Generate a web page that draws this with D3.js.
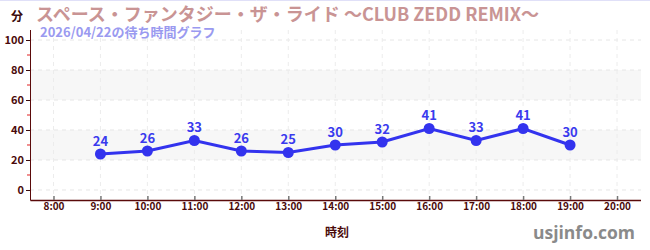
<!DOCTYPE html>
<html><head><meta charset="utf-8">
<script src="https://cdn.jsdelivr.net/npm/d3@7"></script>
<style>body{margin:0;background:#fff;}svg{display:block;font-family:"Noto Sans CJK JP","Noto Sans",sans-serif;}</style>
</head><body>
<svg id="c" width="650" height="250"></svg>
<script>
const hours = [9,10,11,12,13,14,15,16,17,18,19];
const waits = [24,26,33,26,25,30,32,41,33,41,30];
const xTicks = [8,9,10,11,12,13,14,15,16,17,18,19,20];
const yTicks = [0,20,40,60,80,100];
const yMinor = [10,30,50,70,90];
const bands = [[20,40],[60,80]];
const title = "スペース・ファンタジー・ザ・ライド 〜CLUB ZEDD REMIX〜";
const subtitle = "2026/04/22の待ち時間グラフ";

const svg = d3.select("#c");
const x = d3.scaleLinear().domain([7.5,20.5]).range([30,640.5]);
const y = d3.scaleLinear().domain([-6.67,106.67]).range([200,30]);

svg.append("line").attr("x1",0).attr("x2",650).attr("y1",0.5).attr("y2",0.5).attr("stroke","#e0e0f8").attr("stroke-width",1);

// bands
svg.selectAll("rect.band").data(bands).join("rect")
  .attr("x",30).attr("width",611)
  .attr("y",d=>y(d[1])).attr("height",d=>y(d[0])-y(d[1]))
  .attr("fill","#f7f7f7");

// grid
svg.selectAll("line.hg").data(yTicks).join("line")
  .attr("x1",30).attr("x2",641).attr("y1",d=>y(d)).attr("y2",d=>y(d))
  .attr("stroke","#e6e6e6").attr("stroke-dasharray","4,4");
svg.selectAll("line.vg").data(xTicks).join("line")
  .attr("x1",d=>x(d)).attr("x2",d=>x(d)).attr("y1",30).attr("y2",200)
  .attr("stroke","#ececec").attr("stroke-dasharray","4,4");

// y axis
const ya = svg.append("g").attr("transform","translate(30,0)")
  .call(d3.axisLeft(y).tickValues(yTicks).tickSize(4).tickPadding(2));
ya.select(".domain").attr("stroke","#5a0a0a").attr("d","M0.5,30V200.5");
ya.selectAll(".tick line").attr("stroke","#3a0a0a");
ya.selectAll(".tick text").attr("fill","#4a0a0a").attr("font-size",11).attr("font-weight","bold").attr("font-family","'Noto Sans CJK JP',sans-serif");
svg.append("g").selectAll("line").data(yMinor).join("line")
  .attr("x1",27).attr("x2",30).attr("y1",d=>y(d)).attr("y2",d=>y(d)).attr("stroke","#e02020");

// x axis
const xa = svg.append("g").attr("transform","translate(0,200)")
  .call(d3.axisBottom(x).tickValues(xTicks).tickFormat(d=>d+":00").tickSizeInner(-4).tickSizeOuter(0).tickPadding(3));
xa.select(".domain").attr("stroke","#5a0a0a").attr("stroke-width",1.3);
xa.selectAll(".tick line").attr("stroke","#777").attr("stroke-width",1.5);
xa.selectAll(".tick text").attr("fill","#4a0a0a").attr("font-size",10).attr("font-weight","bold").attr("font-family","'Noto Sans CJK JP',sans-serif");

// line
const line = d3.line().x((d,i)=>x(hours[i])).y(d=>y(d));
svg.append("path").datum(waits).attr("d",line).attr("fill","none").attr("stroke","#3333ee").attr("stroke-width",3);
svg.selectAll("circle.p").data(waits).join("circle")
  .attr("cx",(d,i)=>x(hours[i])).attr("cy",d=>y(d)).attr("r",5.5).attr("fill","#3333ee");
svg.selectAll("text.v").data(waits).join("text")
  .attr("x",(d,i)=>x(hours[i])).attr("y",d=>y(d)-8).attr("text-anchor","middle")
  .attr("fill","#3a3aee").attr("font-size",13).attr("font-weight","bold").text(d=>d);

// texts
svg.append("text").attr("x",17).attr("y",21).attr("text-anchor","middle").attr("font-size",12).attr("font-weight","bold").attr("fill","#3a0a0a").text("分");
svg.append("text").attr("x",36).attr("y",21).attr("font-size",18).attr("font-weight","bold").attr("fill","#c99494").text(title);
svg.append("text").attr("x",40).attr("y",37).attr("font-size",13).attr("font-weight","bold").attr("fill","#9a9af0").text(subtitle);
svg.append("text").attr("x",337).attr("y",237).attr("text-anchor","middle").attr("font-size",12).attr("font-weight","bold").attr("fill","#4a0a0a").text("時刻");
svg.append("text").attr("x",635).attr("y",239).attr("text-anchor","end").attr("font-size",17.5).attr("font-weight","bold").attr("fill","#8a8a8a").attr("font-family","'Open Sans','Noto Sans',sans-serif").text("usjinfo.com");
</script>
</body></html>
